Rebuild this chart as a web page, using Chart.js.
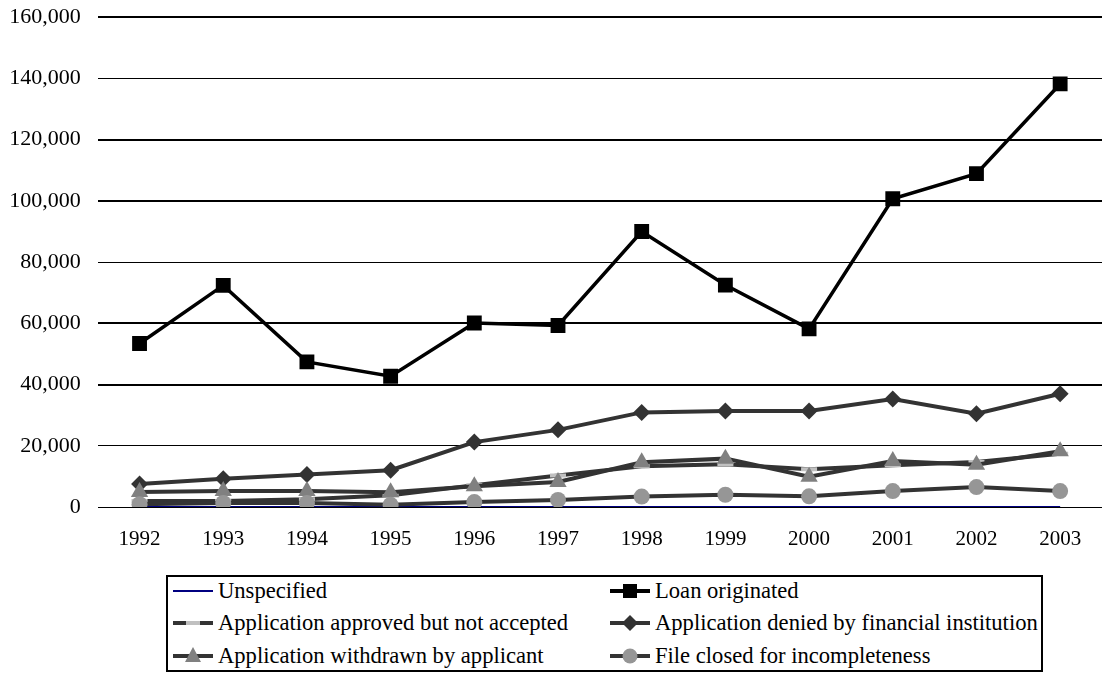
<!DOCTYPE html>
<html><head><meta charset="utf-8">
<script src="https://cdn.jsdelivr.net/npm/chart.js@4.4.0/dist/chart.umd.min.js"></script>
<style>
html,body{margin:0;padding:0;background:#fff;overflow:hidden;width:1109px;height:673px;position:relative}
#wrap{position:absolute;left:0;top:-13.3px;width:1114px;height:569px}
#legend{position:absolute;left:166px;top:575px;width:873px;height:93px;border:2px solid #000;font-family:"Liberation Serif","Times New Roman",serif;font-size:22.6px;color:#000;}
.item{position:absolute;display:flex;align-items:center;height:28px;white-space:nowrap}
.item svg{margin-right:5px;flex:none}
</style></head>
<body>
<div id="wrap"><canvas id="c"></canvas></div>
<div id="legend"></div>
<script>
const years = ['1992','1993','1994','1995','1996','1997','1998','1999','2000','2001','2002','2003'];
const unspecified = [0,0,0,0,0,0,0,0,0,0,0,0];
const loanOriginated = [53400,72400,47400,42700,60100,59300,90000,72500,58200,100700,108900,138200];
const approvedNotAccepted = [2000,2000,2500,3800,7100,10300,13300,14000,12300,13600,14700,17400];
const deniedByInstitution = [7500,9200,10600,12000,21200,25200,30900,31400,31400,35300,30500,37000];
const withdrawnByApplicant = [4900,5200,5200,4800,6800,8200,14600,15800,9900,15000,13800,18200];
const closedIncomplete = [900,1300,1300,700,1600,2300,3400,4000,3500,5200,6500,5200];
const yTicks = [0,20000,40000,60000,80000,100000,120000,140000,160000];
const seriesNames = ['Unspecified','Loan originated','Application approved but not accepted','Application denied by financial institution','Application withdrawn by applicant','File closed for incompleteness'];
const seriesValues = [unspecified,loanOriginated,approvedNotAccepted,deniedByInstitution,withdrawnByApplicant,closedIncomplete];

const styles = [
  {line:'#000080', lw:2, ps:false, r:0, fill:'#000080', pbw:0, pbc:'#000080'},
  {line:'#000000', lw:3.5, ps:'rect', r:10.5, fill:'#000000', pbw:0, pbc:'#000000'},
  {line:'#333333', lw:4, ps:'line', r:8, fill:'#c0c0c0', pbw:4, pbc:'#c0c0c0'},
  {line:'#333333', lw:4, ps:'rectRot', r:8.5, fill:'#333333', pbw:0, pbc:'#333333'},
  {line:'#333333', lw:4, ps:'triangle', r:10, fill:'#808080', pbw:0, pbc:'#808080'},
  {line:'#333333', lw:4, ps:'circle', r:8, fill:'#969696', pbw:0, pbc:'#969696'}
];

const datasets = seriesNames.map((name,i)=>({
  label:name,
  data:seriesValues[i],
  borderColor:styles[i].line,
  borderWidth:styles[i].lw,
  backgroundColor:styles[i].fill,
  pointStyle:styles[i].ps,
  pointRadius:styles[i].r,
  pointBackgroundColor:styles[i].fill,
  pointBorderColor:styles[i].pbc,
  pointBorderWidth:styles[i].pbw,
  tension:0,
  fill:false,
  order:seriesNames.length - i
}));

const fontX = {family:'Liberation Serif', size:21};
const fontY = {family:'Liberation Serif', size:22};

new Chart(document.getElementById('c'), {
  type:'line',
  data:{labels:years, datasets:datasets},
  options:{
    responsive:true, maintainAspectRatio:false, animation:false,
    layout:{padding:{left:3,right:0,top:4,bottom:4}},
    plugins:{legend:{display:false}, tooltip:{enabled:false}},
    scales:{
      x:{offset:true, grid:{display:false, drawTicks:false}, border:{display:false},
         afterFit: a => { a.height = 45; },
         ticks:{padding:20, color:'#000', font:fontX, maxRotation:0, autoSkip:false}},
      y:{min:0, max:160000,
         afterBuildTicks: axis => { axis.ticks = yTicks.map(v=>({value:v})); },
         afterFit: a => { a.width = 94.7; },
         grid:{color:'#000', drawTicks:false, lineWidth: c => (c.index===0 || c.index%3===1) ? 1 : 2},
         border:{display:false},
         ticks:{padding:17, color:'#000', font:fontY, callback:v=>Number(v).toLocaleString('en-US')}}
    }
  }
});

// legend (HTML, real text)
function symbolSvg(s){
  let m='';
  const cx=20, cy=10;
  if(s.ps==='rect'){ m=`<rect x="${cx-7}" y="${cy-7}" width="14" height="14" fill="${s.fill}"/>`; }
  else if(s.ps==='rectRot'){ m=`<polygon points="${cx},${cy-8} ${cx+8},${cy} ${cx},${cy+8} ${cx-8},${cy}" fill="${s.fill}"/>`; }
  else if(s.ps==='triangle'){ m=`<polygon points="${cx},${cy-9} ${cx+8},${cy+6} ${cx-8},${cy+6}" fill="${s.fill}"/>`; }
  else if(s.ps==='circle'){ m=`<circle cx="${cx}" cy="${cy}" r="7.5" fill="${s.fill}"/>`; }
  else if(s.ps==='line'){ m=`<line x1="${cx-7}" y1="${cy}" x2="${cx+7}" y2="${cy}" stroke="${s.pbc}" stroke-width="4"/>`; }
  return `<svg width="40" height="20" viewBox="0 0 40 20"><line x1="0" y1="10" x2="40" y2="10" stroke="${s.line}" stroke-width="${s.ps?4:2}"/>${m}</svg>`;
}
const leg = document.getElementById('legend');
const rowTops = [0,32,65];
const colLefts = [5,442];
seriesNames.forEach((name,i)=>{
  const d = document.createElement('div');
  d.className='item';
  d.style.left = colLefts[i%2]+'px';
  d.style.top = rowTops[Math.floor(i/2)]+'px';
  d.innerHTML = symbolSvg(styles[i]) + '<span>'+name+'</span>';
  leg.appendChild(d);
});
</script>
</body></html>
